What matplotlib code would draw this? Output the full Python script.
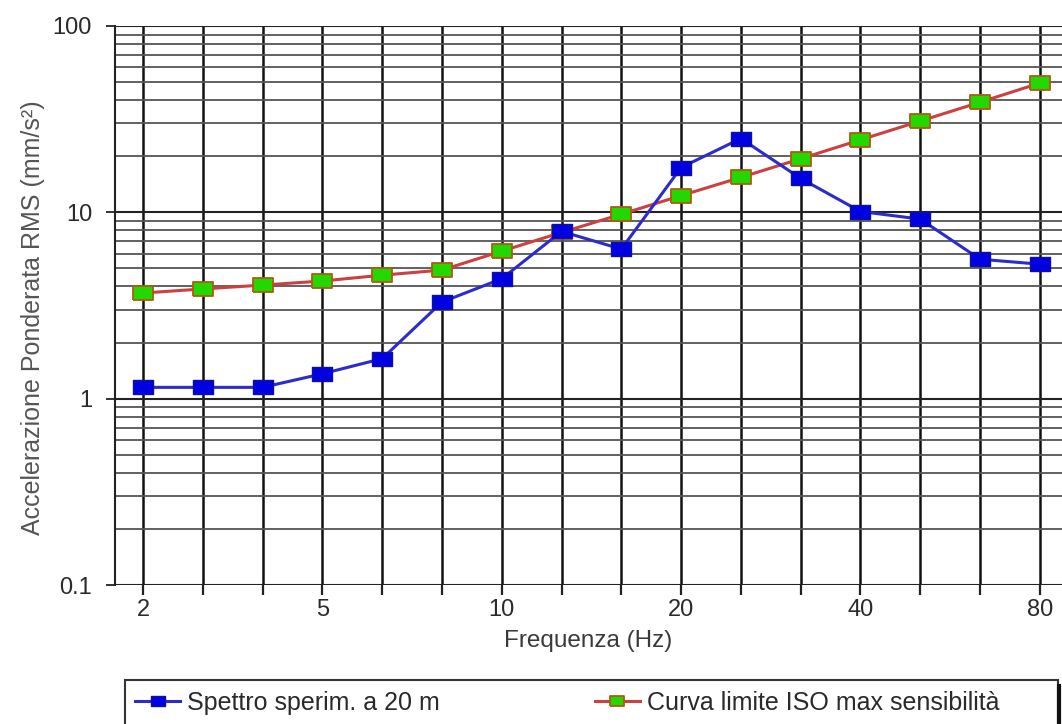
import numpy as np
import matplotlib
matplotlib.use("Agg")
import matplotlib.pyplot as plt
from matplotlib.patches import Rectangle
from matplotlib.lines import Line2D
from matplotlib.ticker import LogLocator, NullFormatter

plt.rcParams['font.family'] = ['Liberation Sans', 'DejaVu Sans']

# third-octave bands shown as equally spaced categories
freq_labels = ["2", "", "", "5", "", "", "10", "", "", "20", "", "", "40", "", "", "80"]
spettro = [1.15, 1.15, 1.15, 1.36, 1.64, 3.3, 4.4, 7.9, 6.35, 17.4,
           24.9, 15.2, 10.1, 9.2, 5.6, 5.27]
curva_iso = [3.69, 3.88, 4.07, 4.28, 4.6, 4.9, 6.19, 7.8, 9.77, 12.3,
             15.4, 19.4, 24.5, 30.9, 39.0, 49.4]

x = np.arange(len(freq_labels))

# wide rectangle marker like the original
rect = [(-1, -0.72), (1, -0.72), (1, 0.72), (-1, 0.72), (-1, -0.72)]

W, H = 1062, 724
fig = plt.figure(figsize=(W / 100, H / 100), dpi=100)
ax = fig.add_axes([115 / W, 1 - 585 / H, 947 / W, 559 / H])

ax.set_yscale('log')
ax.set_ylim(0.1, 100)
ax.set_xlim(-0.468, 15.37)

ax.yaxis.set_minor_locator(LogLocator(base=10, subs=np.arange(2, 10), numticks=10))
ax.yaxis.set_minor_formatter(NullFormatter())
ax.set_yticks([0.1, 1, 10, 100])
ax.set_yticklabels(["0.1", "1", "10", "100"])
ax.grid(True, which='major', axis='y', color='#222222', lw=1.5)
ax.grid(True, which='minor', axis='y', color='#555555', lw=1.3)
ax.set_xticks(x)
ax.set_xticklabels(freq_labels)
ax.grid(True, which='major', axis='x', color='#111111', lw=1.8)
ax.set_axisbelow(True)

ax.tick_params(axis='x', which='major', length=7.2, width=1.6, color='#222222',
               labelsize=17, labelcolor='#2a2a2a', pad=3)
ax.tick_params(axis='y', which='major', length=6.5, width=1.4, color='#333333',
               labelsize=17, labelcolor='#2a2a2a', pad=10)
ax.tick_params(axis='y', which='minor', length=0)

for s in ['top', 'right', 'bottom']:
    ax.spines[s].set_visible(False)
ax.spines['left'].set_color('#222222')
ax.spines['left'].set_linewidth(1.5)

ax.plot(x, spettro, color='#2c2cc8', lw=2.2, marker=rect, markersize=14,
        markerfacecolor='#0000e0', markeredgecolor='#1010a0', markeredgewidth=1,
        label='Spettro sperim. a 20 m', zorder=4)
ax.plot(x, curva_iso, color='#cc4040', lw=2.2, marker=rect, markersize=14,
        markerfacecolor='#22d800', markeredgecolor='#b05a10', markeredgewidth=1.3,
        label='Curva limite ISO max sensibilità', zorder=3)

ax.set_xlabel('Frequenza (Hz)', fontsize=17.5, color='#3a3a3a', labelpad=6)
ax.set_ylabel('Accelerazione Ponderata RMS (mm/s²)', fontsize=18, color='#555555')
ax.yaxis.set_label_coords((45 - 115) / 947, (585 - 318) / 559)

h, l = ax.get_legend_handles_labels()
leg = fig.legend(h, l, loc='center left', bbox_to_anchor=(135 / W, 1 - 703 / H),
                 ncol=2, fontsize=18, frameon=False, handlelength=1.8,
                 handletextpad=0.28, columnspacing=6.2, borderaxespad=0,
                 borderpad=0, markerscale=0.75)
for t in leg.get_texts():
    t.set_color('#2a2a2a')

# legend frame, cut by the bottom edge of the picture
fig.patches.append(Rectangle((125 / W, -0.05), (1058 - 125) / W, 0.05 + 1 - 680 / H,
                             transform=fig.transFigure, fill=False,
                             edgecolor='#333333', lw=1.5))
fig.lines.append(Line2D([1059 / W, 1059 / W], [-0.01, 1 - 686 / H],
                        transform=fig.transFigure, color='#111111', lw=3))

fig.savefig('out.png', dpi=100)
